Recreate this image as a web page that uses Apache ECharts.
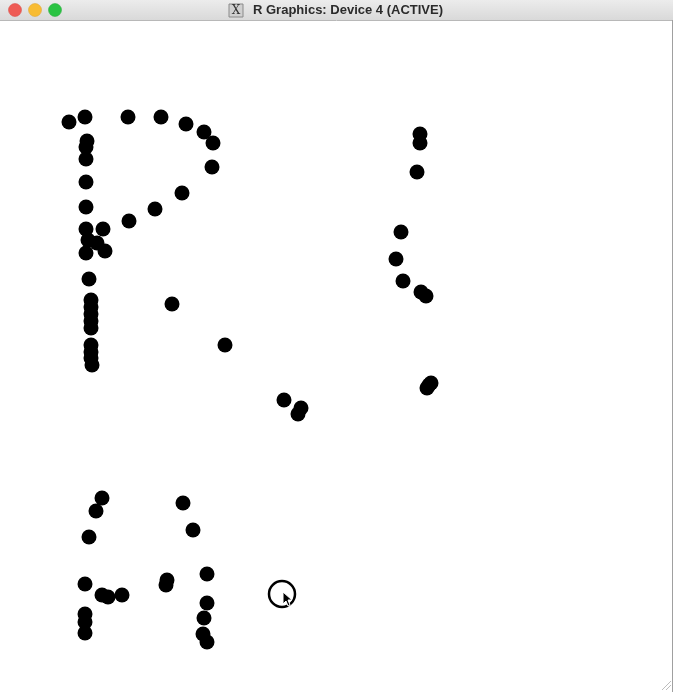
<!DOCTYPE html>
<html>
<head>
<meta charset="utf-8">
<style>
html,body{margin:0;padding:0;background:#fff;}
#c{width:675px;height:692px;}
</style>
<script src="https://cdn.jsdelivr.net/npm/echarts@6/dist/echarts.min.js"></script>
</head>
<body>
<div id="c"></div>
<script>
// Filled points (device coordinates)
const pointX = [69,85,128,161,186,204,213,212,182,155,129,87,86,86,86,86,86,103,88,97,105,86,
  89,91,91,91,91,91,91,91,91,92,172,225,284,301,298,
  420,420,417,401,396,403,421,426,431,429,427,
  102,96,89,85,102,108,122,85,85,85,183,193,167,166,207,207,204,203,207];
const pointY = [122,117,117,117,124,132,143,167,193,209,221,141,147,159,182,207,229,229,240,243,251,253,
  279,300,307,314,321,328,345,352,358,365,304,345,400,408,414,
  134,143,172,232,259,281,292,296,383,385,388,
  498,511,537,584,595,597,595,614,622,633,503,530,580,585,574,603,618,634,642];
// Hollow (current locator) point
const openX = [282];
const openY = [594];
const windowTitle = "R Graphics: Device 4 (ACTIVE)";

const filled = pointX.map((x, i) => [x, pointY[i]]);
const open = openX.map((x, i) => [x, openY[i]]);

const chart = echarts.init(document.getElementById('c'), null, {renderer: 'canvas'});
chart.setOption({
  animation: false,
  backgroundColor: '#ffffff',
  grid: {left: 0, right: 0, top: 0, bottom: 0},
  xAxis: {type: 'value', min: 0, max: 675, show: false},
  yAxis: {type: 'value', min: 0, max: 692, inverse: true, show: false},
  series: [
    {type: 'scatter', data: filled, symbol: 'circle', symbolSize: 15,
     itemStyle: {color: '#000000', opacity: 1}, z: 3},
    {type: 'scatter', data: open, symbol: 'circle', symbolSize: 26,
     itemStyle: {color: 'rgba(0,0,0,0)', borderColor: '#000000', borderWidth: 2.5, opacity: 1}, z: 3}
  ],
  graphic: [
    // title bar
    {type: 'rect', shape: {x: 0, y: 0, width: 673, height: 20},
     style: {fill: new echarts.graphic.LinearGradient(0, 0, 0, 1, [
       {offset: 0, color: '#ececec'}, {offset: 1, color: '#d9d9d9'}])}, z: 10},
    {type: 'line', shape: {x1: 0, y1: 20.5, x2: 673, y2: 20.5},
     style: {stroke: '#b8b8b8', lineWidth: 1}, z: 11},
    {type: 'line', shape: {x1: 672.5, y1: 20, x2: 672.5, y2: 692},
     style: {stroke: '#a0a0a0', lineWidth: 1}, z: 11},
    {type: 'circle', shape: {cx: 15, cy: 10, r: 6.5}, style: {fill: '#ee5b55', stroke: '#d9453f', lineWidth: 0.5}, z: 11},
    {type: 'circle', shape: {cx: 35, cy: 10, r: 6.5}, style: {fill: '#f8bc33', stroke: '#dea029', lineWidth: 0.5}, z: 11},
    {type: 'circle', shape: {cx: 55, cy: 10, r: 6.5}, style: {fill: '#2ac343', stroke: '#20a835', lineWidth: 0.5}, z: 11},
    // X icon
    {type: 'rect', shape: {x: 229, y: 4, width: 14, height: 13},
     style: {fill: '#d0d0d0', stroke: '#8a8a8a', lineWidth: 1}, z: 11},
    {type: 'text', x: 236, y: 10.5,
     style: {text: 'X', fill: '#333', font: '12px "DejaVu Serif", serif', align: 'center', verticalAlign: 'middle'}, z: 12},
    {type: 'text', x: 348, y: 10.5,
     style: {text: windowTitle, fill: '#2b2b2b', font: 'bold 13px "Liberation Sans", Arial, sans-serif',
       align: 'center', verticalAlign: 'middle'}, z: 11},
    // cursor arrow
    {type: 'polygon', shape: {points: [[283,592],[283,604],[286,601],[288,606],[290,605],[288,600],[292,600]]},
     style: {fill: '#000', stroke: '#fff', lineWidth: 1}, z: 12},
    // resize grip
    {type: 'line', shape: {x1: 662, y1: 690, x2: 671, y2: 681}, style: {stroke: '#bdbdbd', lineWidth: 1}, z: 11},
    {type: 'line', shape: {x1: 666, y1: 690, x2: 671, y2: 685}, style: {stroke: '#bdbdbd', lineWidth: 1}, z: 11}
  ]
});
</script>
</body>
</html>
